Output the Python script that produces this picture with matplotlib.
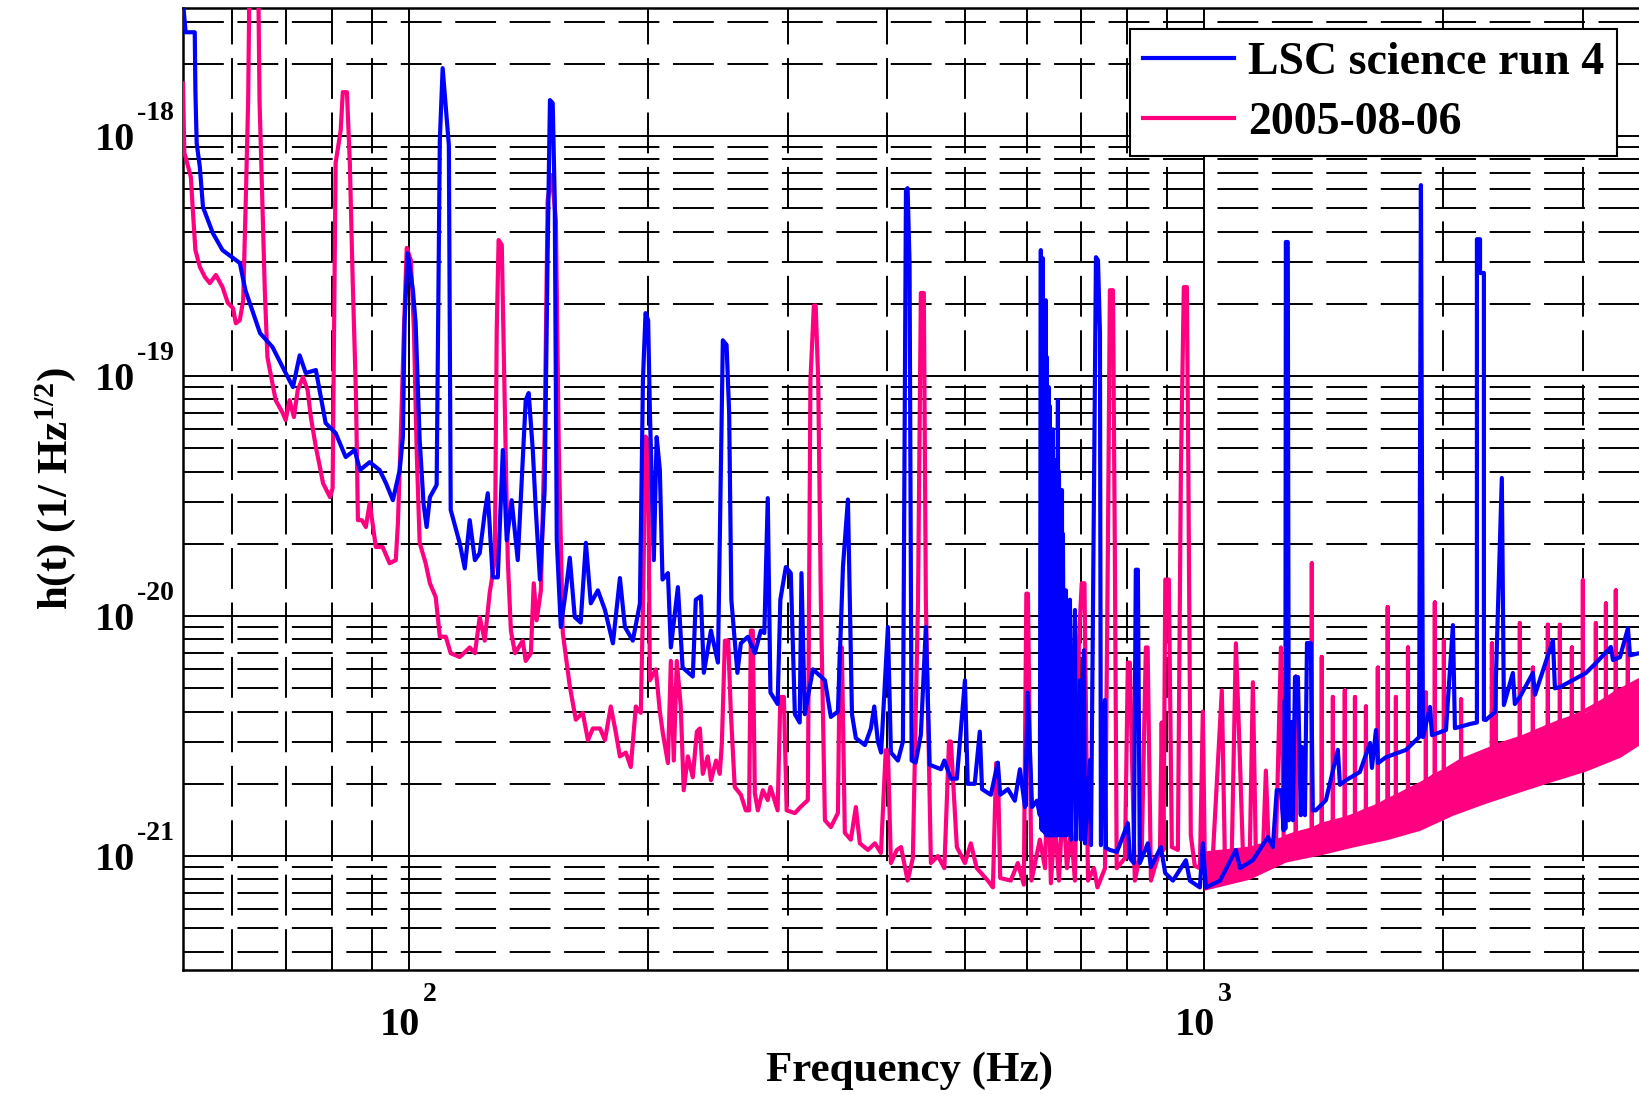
import numpy as np
import matplotlib
matplotlib.use('Agg')
import matplotlib.pyplot as plt
from matplotlib.ticker import LogLocator, NullFormatter

plt.rcParams['font.family'] = ['Liberation Serif', 'DejaVu Serif']
plt.rcParams['font.weight'] = 'bold'
plt.rcParams['mathtext.fontset'] = 'custom'
plt.rcParams['mathtext.rm'] = 'Liberation Serif:bold'
plt.rcParams['mathtext.bf'] = 'Liberation Serif:bold'
plt.rcParams['mathtext.it'] = 'Liberation Serif:bold'

BLUE = '#0000ff'
PINK = '#ff0080'
UNIT = 1e-21   # values below are in units of 1e-21 / sqrt(Hz)

# LSC science run 4 : (frequency Hz, h)
s4_points = [
    (52.0, 3600), (52.4, 2710), (53.8, 2710), (53.9, 1555), (54.1, 935), (54.6, 743),
    (55.1, 506), (56.7, 394), (58.3, 335), (61.3, 296), (62.3, 228), (65.0, 151),
    (67.4, 132), (69.4, 109), (71.5, 90), (72.9, 122), (74.2, 103), (76.4, 106),
    (78.6, 63.7), (80.9, 57.9), (83.3, 46), (85.5, 49.2), (86.8, 40.6), (89.3, 43.8),
    (91.9, 40.6), (93.6, 35.8), (95.5, 30.4), (97.4, 40.6), (98.3, 55.7), (98.8, 171),
    (99.7, 325), (101.2, 228), (102.0, 166), (103.2, 54), (104.4, 29), (105.3, 23.5),
    (106.3, 31.3), (108.4, 35.2), (109.4, 962), (110.3, 1920), (111.3, 1321), (112.3, 917),
    (112.9, 27.7), (115.9, 20.1), (117.6, 15.8), (119.3, 25.1), (121.1, 17.1), (122.8, 18.3),
    (124.6, 26.9), (125.7, 32.5), (127.5, 14.5), (129.4, 14.5), (131.3, 49.2), (132.8, 20.7),
    (134.7, 30.4), (137.1, 17.1), (140.3, 79.4), (141.5, 85), (143.2, 49.2), (144.4, 28.4),
    (146.2, 14.2), (148.2, 33.5), (149.5, 335), (150.5, 1413), (151.7, 1372), (152.6, 541),
    (153.5, 20.7), (155.3, 9.0), (157.6, 12.8), (159.4, 17.5), (161.7, 9.9), (164.5, 9.4),
    (167.0, 20.2), (169.4, 11.3), (172.9, 12.8), (176.5, 10.6), (180.6, 7.7), (184.3, 14.4),
    (187.0, 9.0), (191.3, 7.9), (195.3, 11.3), (197.0, 96), (198.5, 183), (200.0, 171),
    (201.0, 72), (203.3, 17.1), (205.0, 55.7), (206.9, 40.6), (208.5, 14.2), (211.8, 15.1),
    (213.6, 7.4), (218.0, 13.2), (221.0, 6.1), (227.6, 5.6), (229.6, 11.7), (233.0, 12.1),
    (235.0, 5.8), (239.9, 8.7), (244.8, 6.4), (248.3, 141), (251.0, 135), (252.9, 70),
    (254.5, 11.7), (257.0, 7.9), (259.0, 5.8), (261.6, 7.7), (267.0, 8.2), (272.4, 7.0),
    (277.2, 8.7), (280.0, 8.5), (282.8, 31), (285.0, 4.8), (291.0, 4.3), (293.3, 11.7),
    (298.0, 16), (302.3, 15.1), (305.9, 3.9), (310.2, 3.6), (311.8, 15.1), (314.8, 3.9),
    (322.3, 6.0), (333.7, 5.4), (339.5, 3.8), (346.5, 4.0), (351.6, 16), (356.7, 30.6),
    (360.9, 3.9), (365.0, 3.1), (374.7, 2.9), (381.2, 3.4), (385.0, 4.2), (389.0, 3.0),
    (392.7, 2.7), (400.5, 9.0), (404.0, 2.7), (412.3, 2.5), (418.3, 3.0), (422.0, 596),
    (424.0, 607), (426.4, 296), (429.0, 2.5), (434.0, 2.45), (440.6, 3.2), (447.0, 9.0),
    (452.0, 2.4), (467.0, 2.3), (471.6, 2.5), (480.6, 2.1), (489.0, 2.1), (500.6, 5.4),
    (504.6, 2.0), (515.0, 2.0), (522.6, 3.3), (526.0, 1.9), (539.6, 1.8), (550.6, 2.45),
    (554.4, 1.8), (567.0, 1.9), (578.4, 1.7), (587.0, 2.3), (595.6, 1.6), (600.5, 4.8),
    (608.0, 1.6), (616.6, 1.7), (621.9, 1.48), (623.7, 335), (624.6, 1.3), (625.5, 220),
    (626.4, 1.28), (627.3, 310), (628.2, 1.28), (629.1, 180), (630.9, 1.25), (632.8, 207),
    (633.7, 1.22), (634.6, 120), (636.4, 1.22), (638.3, 90), (639.2, 1.22), (640.2, 75),
    (642.0, 1.22), (643.9, 50.6), (644.8, 1.22), (645.8, 60), (647.7, 1.22), (649.6, 44.7),
    (650.5, 1.22), (651.4, 38), (653.4, 1.22), (655.3, 79.4), (656.2, 1.22), (657.2, 40),
    (660.1, 1.22), (663.0, 33.5), (664.0, 1.22), (664.8, 22), (667.7, 1.22), (670.7, 12.8),
    (672.6, 1.22), (678.5, 11.7), (680.5, 1.17), (688.4, 10.6), (690.4, 1.17), (698.4, 5.4),
    (700.4, 1.17), (706.6, 7.2), (708.6, 1.13), (719.0, 2.51), (721.1, 1.11), (731.6, 313),
    (735.9, 304), (740.1, 152), (742.2, 1.11), (750.9, 4.47), (753.1, 1.08), (761.9, 1.06),
    (777.4, 1.04), (802.4, 1.37), (807.0, 0.98), (816.4, 0.935), (821.1, 15.6), (826.0, 15.6),
    (830.7, 0.935), (850.3, 1.13), (857.8, 0.90), (883, 1.09), (894, 0.85), (914.3, 0.79),
    (949.3, 0.96), (960, 0.79), (988.5, 0.74), (997, 1.13), (1006, 0.74), (1048, 0.79),
    (1097, 1.06), (1110, 0.89), (1152, 0.96), (1204, 1.2), (1221, 1.09), (1235, 1.88),
    (1250, 1.88), (1260, 1.28), (1264, 4.47), (1266, 1.3), (1268, 362), (1275, 362),
    (1279, 1.41), (1290, 3.62), (1294, 1.41), (1302, 5.57), (1313, 5.57), (1324, 1.48),
    (1328, 2.85), (1340, 1.48), (1348, 7.72), (1363, 7.72), (1371, 1.55), (1383, 1.55),
    (1424, 1.71), (1474, 2.77), (1483, 1.98), (1509, 2.07), (1571, 2.24), (1618, 2.96),
    (1627, 2.33), (1646, 3.35), (1656, 2.44), (1694, 2.58), (1796, 2.77), (1865, 3.13),
    (1875, 625), (1886, 3.13), (1925, 4.18), (1936, 3.19), (2016, 3.35), (2057, 9.17),
    (2069, 3.41), (2161, 3.55), (2205, 3.6), (2205, 372), (2225, 372), (2225, 269),
    (2250, 269), (2250, 3.7), (2263, 3.69), (2323, 3.98), (2370, 37.6), (2384, 4.26),
    (2447, 5.79), (2461, 4.3), (2497, 4.6), (2593, 5.79), (2609, 4.7), (2748, 7.94),
    (2764, 5.0), (2805, 5.06), (3023, 5.79), (3112, 6.37), (3250, 7.43), (3270, 6.56),
    (3337, 6.74), (3415, 8.91), (3435, 6.86), (3526, 7.0),
]

# 2005-08-06 : (frequency Hz, h)
aug_points = [
    (52.0, 1660), (52.2, 850), (52.4, 817), (53.2, 675), (53.5, 492), (53.9, 335),
    (54.6, 285), (55.4, 259), (56.2, 244), (57.2, 264), (58.3, 235), (59.2, 202),
    (60.1, 192), (60.6, 166), (61.3, 171), (61.9, 207), (62.4, 579), (62.8, 1413),
    (63.1, 6000), (64.6, 6000), (64.9, 1413), (65.4, 570), (65.9, 228), (66.4, 120),
    (68.0, 79.4), (69.4, 70.2), (70.0, 65.6), (70.8, 79.4), (71.7, 67.5), (72.5, 87.5),
    (73.6, 99), (74.6, 87.5), (75.3, 67.5), (76.4, 50.6), (77.3, 41.8), (78.0, 35.8),
    (79.6, 31.3), (80.2, 34.1), (80.9, 772), (82.1, 1059), (82.6, 1525), (83.6, 1525),
    (84.3, 772), (85.0, 251), (85.8, 85), (86.3, 25.1), (87.3, 25.1), (88.3, 23.5),
    (89.3, 29.6), (90.9, 19.4), (92.7, 19.4), (94.6, 16.6), (96.3, 17.1), (96.9, 24.4),
    (97.7, 55.7), (98.6, 155), (99.4, 342), (100.6, 304), (101.5, 155), (102.3, 49.2),
    (103.2, 20.2), (105.0, 16.6), (106.3, 13.7), (108.1, 12.0), (109.4, 8.2), (111.3, 8.2),
    (112.9, 7.0), (115.9, 6.75), (119.3, 7.4), (121.1, 7.0), (122.8, 9.9), (124.6, 7.9),
    (126.4, 12.5), (128.3, 17.1), (129.0, 155), (129.7, 369), (130.9, 352), (132.0, 79.4),
    (133.2, 17.1), (134.4, 8.7), (136.0, 7.0), (139.1, 7.9), (140.3, 6.5), (142.4, 7.0),
    (143.6, 13.7), (144.8, 9.6), (146.6, 12.8), (148.2, 56.8), (149.5, 541), (151.3, 688),
    (153.1, 447), (154.4, 50.6), (156.2, 8.5), (159.4, 5.1), (162.2, 3.7), (165.5, 3.95),
    (168.0, 3.04), (170.4, 3.4), (174.0, 3.4), (176.5, 3.04), (179.5, 4.2), (182.2, 3.25),
    (184.3, 2.6), (187.5, 2.7), (190.2, 2.35), (193.0, 4.2), (195.8, 3.95), (197.2, 12.8),
    (198.5, 56), (200.0, 54), (201.0, 5.4), (204.5, 6.0), (206.9, 4.0), (208.7, 3.25),
    (211.8, 2.44), (213.6, 6.5), (215.4, 2.5), (217.3, 6.5), (219.8, 4.2), (221.7, 1.88),
    (224.4, 2.6), (227.6, 2.13), (230.3, 3.3), (232.3, 3.4), (234.3, 2.2), (237.7, 2.6),
    (239.9, 2.07), (243.5, 2.5), (246.1, 2.2), (247.6, 2.96), (249.8, 7.9), (252.2, 7.9),
    (254.1, 4.0), (257.0, 1.94), (261.6, 1.8), (265.4, 1.55), (267.9, 1.55), (269.3, 8.7),
    (270.8, 8.7), (272.4, 1.83), (274.8, 1.55), (278.8, 1.88), (282.8, 1.71), (285.0, 1.94),
    (291.0, 1.55), (293.3, 4.6), (296.3, 4.6), (298.7, 1.55), (305.9, 1.51), (310.9, 1.6),
    (317.6, 1.71), (320.0, 96), (323.2, 197), (324.9, 197), (327.3, 96), (329.8, 11.7),
    (333.7, 1.41), (339.5, 1.32), (346.5, 1.51), (348.5, 7.4), (350.5, 7.4), (353.5, 1.25),
    (359.7, 1.17), (365.0, 1.6), (369.2, 1.13), (378.0, 1.06), (385.7, 1.13), (392.5, 1.03),
    (398.0, 2.76), (400.5, 2.76), (404.0, 0.935), (411.0, 1.06), (416.0, 1.09), (424.0, 0.79),
    (430.5, 0.98), (437.0, 11.7), (440.6, 222), (444.4, 222), (447.0, 11.7), (453.6, 0.935),
    (462.9, 1.0), (471.6, 0.89), (478.0, 3.0), (480.6, 3.0), (489.0, 1.09), (500.6, 0.935),
    (509.2, 1.13), (518.0, 0.89), (535.0, 0.79), (542.8, 0.74), (548.0, 2.44), (550.6, 2.44),
    (554.4, 0.81), (571.6, 0.79), (583.4, 0.935), (593.7, 0.76), (598.0, 12.4), (600.8, 12.4),
    (607.0, 0.79), (621.9, 1.17), (631.4, 0.89), (636.6, 2.6), (642.0, 0.77), (649.6, 1.41),
    (657.2, 0.79), (665.0, 1.71), (672.6, 0.89), (680.5, 1.28), (688.4, 0.79), (696.4, 7.9),
    (702.0, 13.7), (707.6, 13.7), (714.9, 0.79), (727.4, 0.89), (734.7, 0.74), (751.0, 0.89),
    (757.3, 19), (761.7, 228), (768.5, 228), (772.7, 19), (776.9, 0.89), (795.7, 0.98),
    (802.4, 6.4), (807.0, 6.4), (818.8, 0.79), (835.6, 1.1), (845.3, 7.4), (849.7, 7.4),
    (857.9, 0.79), (880.6, 1.06), (885.0, 3.6), (889.6, 1.06), (894.3, 14.2), (903.6, 14.2),
    (911.4, 1.09), (927.5, 1.06), (935.6, 40.6), (943.6, 235), (951.9, 235), (956.0, 40.6),
    (962.9, 1.22), (974.0, 0.91), (988.5, 0.89), (997.0, 4.0), (1003, 0.89), (1026, 0.98),
    (1053.4, 4.9), (1062.7, 0.98), (1084.4, 1.06), (1097.2, 7.7), (1106.7, 3.4), (1119.5, 1.06),
    (1142, 0.98), (1152.5, 5.3), (1162.6, 0.98), (1186.4, 1.02), (1196.7, 2.27), (1207.3, 1.02),
    (1231.8, 1.06), (1250, 7.4), (1260.5, 1.06), (1268, 1.2),
]

# 2005-08-06 above 1.3 kHz: comb of lines standing on the dense noise band
comb_f = [1305, 1367, 1407, 1453, 1504, 1549, 1599, 1655, 1703, 1744, 1806, 1902, 1952, 2004,
          2106, 2303, 2329, 2497, 2593, 2708, 2804, 2903, 2997, 3112, 3204, 3297, 3414]
comb_base = [1.24, 1.29, 1.35, 1.39, 1.43, 1.48, 1.55, 1.62, 1.71, 1.77, 1.88, 2.05, 2.17, 2.26,
             2.5, 2.82, 2.88, 3.1, 3.26, 3.47, 3.63, 3.78, 3.98, 4.26, 4.5, 4.8, 5.1]
comb_peak = [5.6, 16.6, 6.75, 4.6, 4.9, 4.6, 4.2, 6.1, 10.9, 4.6, 7.4, 4.8, 11.4, 7.9,
             4.5, 7.7, 6.0, 9.35, 6.1, 9.2, 9.2, 7.4, 14.1, 9.35, 11.3, 12.8, 7.9]
comb_end = (3526, 5.4)

# dense band of the 2005-08-06 trace
band_f = [1000, 1140, 1268, 1399, 1539, 1699, 1870, 2057, 2263, 2497, 2748, 3023, 3337, 3526]
band_lo = [0.72, 0.80, 0.944, 1.01, 1.09, 1.17, 1.28, 1.48, 1.66, 1.85, 2.05, 2.26, 2.58, 2.9]
band_hi = [1.05, 1.1, 1.22, 1.35, 1.48, 1.71, 1.98, 2.39, 2.77, 3.1, 3.5, 3.98, 4.9, 5.4]

x_decades = [2, 3]
y_decades = [-18, -19, -20, -21]

s4 = np.array(s4_points)
aug = list(aug_points)
for f, b, p in zip(comb_f, comb_base, comb_peak):
    aug += [(f, b), (f, p), (f, b)]
aug.append(comb_end)
aug = np.array(aug)

fig = plt.figure(figsize=(16.39, 10.94), dpi=100)
ax = fig.add_axes([183 / 1639, 124 / 1094, 1456 / 1639, 962 / 1094])

ax.fill_between(band_f, np.array(band_lo) * UNIT, np.array(band_hi) * UNIT,
                color=PINK, lw=0, zorder=2)
lp, = ax.plot(aug[:, 0], aug[:, 1] * UNIT, color=PINK, lw=3.0, zorder=3, label='2005-08-06')
lb, = ax.plot(s4[:, 0], s4[:, 1] * UNIT, color=BLUE, lw=3.0, zorder=4, label='LSC science run 4')

ax.set_xscale('log')
ax.set_yscale('log')
ax.set_xlim(52, 3526)
ax.set_ylim(3.35e-22, 3.42e-18)

for axis in (ax.xaxis, ax.yaxis):
    axis.set_major_locator(LogLocator(base=10, numticks=20))
    axis.set_minor_locator(LogLocator(base=10, subs=np.arange(2, 10), numticks=100))
    axis.set_minor_formatter(NullFormatter())
ax.set_axisbelow(True)
ax.grid(True, which='major', color='k', lw=1.4, ls='-')
ax.grid(True, which='minor', color='k', lw=1.4, ls=(0, (21, 7)))
ax.tick_params(which='both', length=0, labelbottom=False, labelleft=False)
for side in ('left', 'bottom', 'top'):
    ax.spines[side].set_color('k')
    ax.spines[side].set_linewidth(1.8)
ax.spines['right'].set_visible(False)

PX = 0.72
for e in x_decades:
    ax.annotate('10', xy=(10.0 ** e, 0), xycoords=('data', 'axes fraction'),
                xytext=(11 * PX, -65 * PX), textcoords='offset points',
                ha='right', va='baseline', fontsize=29, annotation_clip=False)
    ax.annotate(str(e), xy=(10.0 ** e, 0), xycoords=('data', 'axes fraction'),
                xytext=(14 * PX, -31 * PX), textcoords='offset points',
                ha='left', va='baseline', fontsize=20, annotation_clip=False)
for e in y_decades:
    ax.annotate('10', xy=(0, 10.0 ** e), xycoords=('axes fraction', 'data'),
                xytext=(-48 * PX, -14 * PX), textcoords='offset points',
                ha='right', va='baseline', fontsize=29, annotation_clip=False)
    ax.annotate(str(e), xy=(0, 10.0 ** e), xycoords=('axes fraction', 'data'),
                xytext=(-46 * PX, 16 * PX), textcoords='offset points',
                ha='left', va='baseline', fontsize=20, annotation_clip=False)

fig.text(910 / 1639, 1 - 1071 / 1094, 'Frequency (Hz)', ha='center', va='center', fontsize=31)
fig.text(56 / 1639, 1 - 489 / 1094, r'h(t) (1/ Hz$^{1/2}$)', rotation=90,
         ha='center', va='center', fontsize=31)

leg = ax.legend(handles=[lb, lp], loc='upper right', bbox_to_anchor=(0.985, 0.978),
                borderaxespad=0, prop={'size': 33, 'weight': 'bold'}, frameon=True,
                fancybox=False, edgecolor='k', framealpha=1, handlelength=2.0,
                handletextpad=0.3, borderpad=0.28, labelspacing=0.38)
leg.get_frame().set_linewidth(1.5)
leg.set_zorder(10)

fig.savefig('out.png', dpi=100)
